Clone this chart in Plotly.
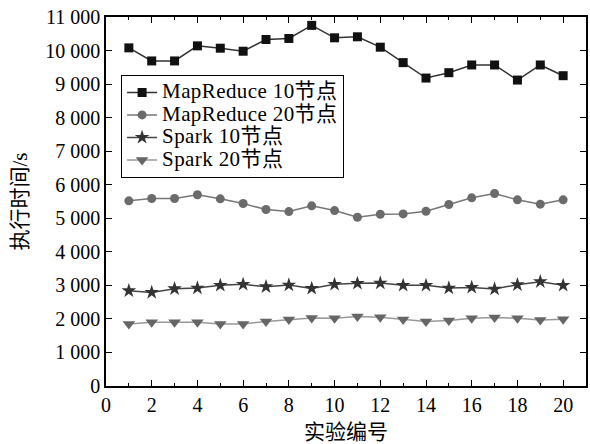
import plotly.graph_objects as go

experiments = list(range(1, 21))
mapreduce_10 = [10080, 9690, 9690, 10140, 10070, 9980, 10330, 10360, 10750, 10380,
                10410, 10100, 9640, 9180, 9340, 9570, 9570, 9120, 9570, 9250]
mapreduce_20 = [5520, 5590, 5590, 5700, 5580, 5440, 5260, 5200, 5370, 5230,
                5030, 5120, 5130, 5210, 5410, 5610, 5740, 5550, 5420, 5550]
spark_10 = [2840, 2790, 2900, 2920, 3000, 3030, 2960, 3010, 2910, 3030,
            3060, 3070, 3000, 3000, 2920, 2940, 2890, 3020, 3110, 3000]
spark_20 = [1850, 1900, 1900, 1900, 1850, 1850, 1920, 1980, 2030, 2020,
            2070, 2050, 1980, 1920, 1950, 2020, 2040, 2020, 1970, 1990]

series_names = ["MapReduce 10节点", "MapReduce 20节点", "Spark 10节点", "Spark 20节点"]
y_ticks = list(range(0, 11001, 1000))
y_tick_labels = ["0" if v == 0 else f"{v // 1000} 000" for v in y_ticks]

FONT = "Liberation Serif, Times New Roman, Noto Sans CJK SC, serif"

styles = [
    dict(symbol="square", size=9, mcolor="#111111", lcolor="#333333"),
    dict(symbol="circle", size=9, mcolor="#6b6b6b", lcolor="#777777"),
    dict(symbol="star", size=11, mcolor="#333333", lcolor="#444444"),
    dict(symbol="triangle-down", size=11, mcolor="#666666", lcolor="#999999"),
]
data = [mapreduce_10, mapreduce_20, spark_10, spark_20]

fig = go.Figure()
for name, ys, st in zip(series_names, data, styles):
    fig.add_trace(go.Scatter(
        x=experiments, y=ys,
        name=f'<span style="font-size:21px;letter-spacing:0.4px">{name}</span>',
        mode="lines+markers",
        line=dict(color=st["lcolor"], width=1.5),
        marker=dict(symbol=st["symbol"], size=st["size"], color=st["mcolor"],
                    line=dict(width=0)),
    ))

axis_common = dict(
    showline=True, linecolor="#000000", linewidth=1.5, mirror="ticks",
    ticks="inside", tickcolor="#000000", ticklen=6, tickwidth=1.2,
    showgrid=False, zeroline=False,
    tickfont=dict(family=FONT, size=20, color="#000000"),
)

fig.update_layout(
    width=590, height=444,
    margin=dict(l=106, r=2, t=17, b=58),
    paper_bgcolor="white", plot_bgcolor="white",
    font=dict(family=FONT, color="#000000"),
    xaxis=dict(
        range=[0, 21], tickvals=list(range(0, 21, 2)),
        minor=dict(ticks="inside", tickvals=list(range(1, 21, 2)), ticklen=3,
                   tickcolor="#000000", tickwidth=1),
        title=dict(text="实验编号", font=dict(family=FONT, size=21), standoff=11),
        **axis_common,
    ),
    yaxis=dict(
        range=[0, 11000], tickvals=y_ticks, ticktext=y_tick_labels,
        title=dict(text="执行时间/s", font=dict(family=FONT, size=21), standoff=12),
        **axis_common,
    ),
    legend=dict(
        x=0.031, y=0.843, xanchor="left", yanchor="top",
        bgcolor="white", bordercolor="#000000", borderwidth=1.2,
        font=dict(family=FONT, size=15, color="#000000"),
        tracegroupgap=0, itemwidth=30,
    ),
    showlegend=True,
)

fig.write_html("out.html")
